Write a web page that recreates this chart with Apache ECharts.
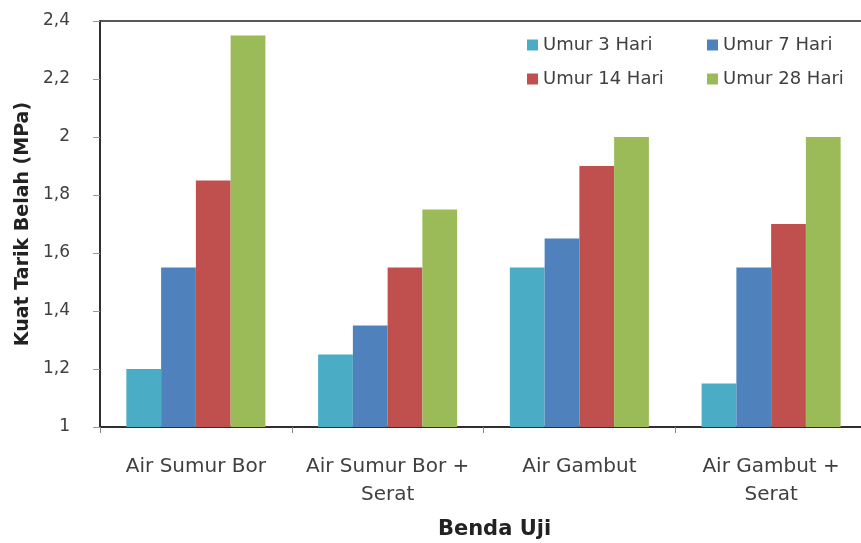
<!DOCTYPE html>
<html>
<head>
<meta charset="utf-8">
<script src="https://cdn.jsdelivr.net/npm/echarts@6/dist/echarts.min.js"></script>
<style>
html,body{margin:0;padding:0;background:#fff;}
#chart{width:861px;height:543px;}
</style>
</head>
<body>
<div id="chart"></div>
<script>
const categories = ['Air Sumur Bor', 'Air Sumur Bor +\nSerat', 'Air Gambut', 'Air Gambut +\nSerat'];
const seriesNames = ['Umur 3 Hari', 'Umur 7 Hari', 'Umur 14 Hari', 'Umur 28 Hari'];
const umur3 = [1.2, 1.25, 1.55, 1.15];
const umur7 = [1.55, 1.35, 1.65, 1.55];
const umur14 = [1.85, 1.55, 1.9, 1.7];
const umur28 = [2.35, 1.75, 2.0, 2.0];
const yTicks = { min: 1, max: 2.4, interval: 0.2 };

const colors = ['#4BACC6', '#4F81BD', '#C0504D', '#9BBB59'];
const values = [umur3, umur7, umur14, umur28];
const font = '"DejaVu Sans", "Open Sans", sans-serif';

const legendPos = [
  { left: 527, top: 36 },
  { left: 707, top: 36 },
  { left: 527, top: 70 },
  { left: 707, top: 70 }
];

const chart = echarts.init(document.getElementById('chart'));
chart.setOption({
  animation: false,
  backgroundColor: '#fff',
  color: colors,
  textStyle: { fontFamily: font },
  legend: seriesNames.map((n, i) => ({
    data: [n],
    left: legendPos[i].left,
    top: legendPos[i].top,
    padding: 0,
    itemWidth: 11,
    itemHeight: 11,
    itemGap: 4,
    icon: 'rect',
    textStyle: { fontSize: 18, color: '#404040', fontFamily: font }
  })),
  grid: {
    left: 100, top: 21, width: 767, bottom: 116,
    outerBoundsMode: 'none',
    show: true, borderColor: '#222', borderWidth: 1.5, containLabel: false
  },
  xAxis: {
    type: 'category',
    data: categories,
    name: 'Benda Uji',
    nameLocation: 'middle',
    nameGap: 92,
    nameTextStyle: { fontSize: 21, fontWeight: 'bold', color: '#222', fontFamily: font, padding: [0, 0, 0, 22] },
    axisLine: { lineStyle: { color: '#222', width: 1.5 } },
    axisTick: { show: true, interval: 0, length: 6, lineStyle: { color: '#888' } },
    axisLabel: { interval: 0, hideOverlap: false, fontSize: 20, color: '#404040', margin: 26, lineHeight: 28, fontFamily: font }
  },
  yAxis: {
    type: 'value',
    min: yTicks.min, max: yTicks.max, interval: yTicks.interval,
    name: 'Kuat Tarik Belah (MPa)',
    nameLocation: 'middle',
    nameGap: 66,
    nameRotate: 90,
    nameTextStyle: { fontSize: 19, fontWeight: 'bold', color: '#222', fontFamily: font },
    splitLine: { show: false },
    axisLine: { show: true, lineStyle: { color: '#222', width: 1.5 } },
    axisTick: { show: true, length: 7, lineStyle: { color: '#999' } },
    axisLabel: {
      fontSize: 17, color: '#404040', margin: 30, fontFamily: font,
      formatter: v => (Math.round(v * 10) / 10).toString().replace('.', ',')
    }
  },
  series: seriesNames.map((n, i) => ({
    name: n,
    type: 'bar',
    data: values[i],
    barGap: '0%',
    barCategoryGap: '27.5%',
    itemStyle: { color: colors[i] }
  }))
});
</script>
</body>
</html>
